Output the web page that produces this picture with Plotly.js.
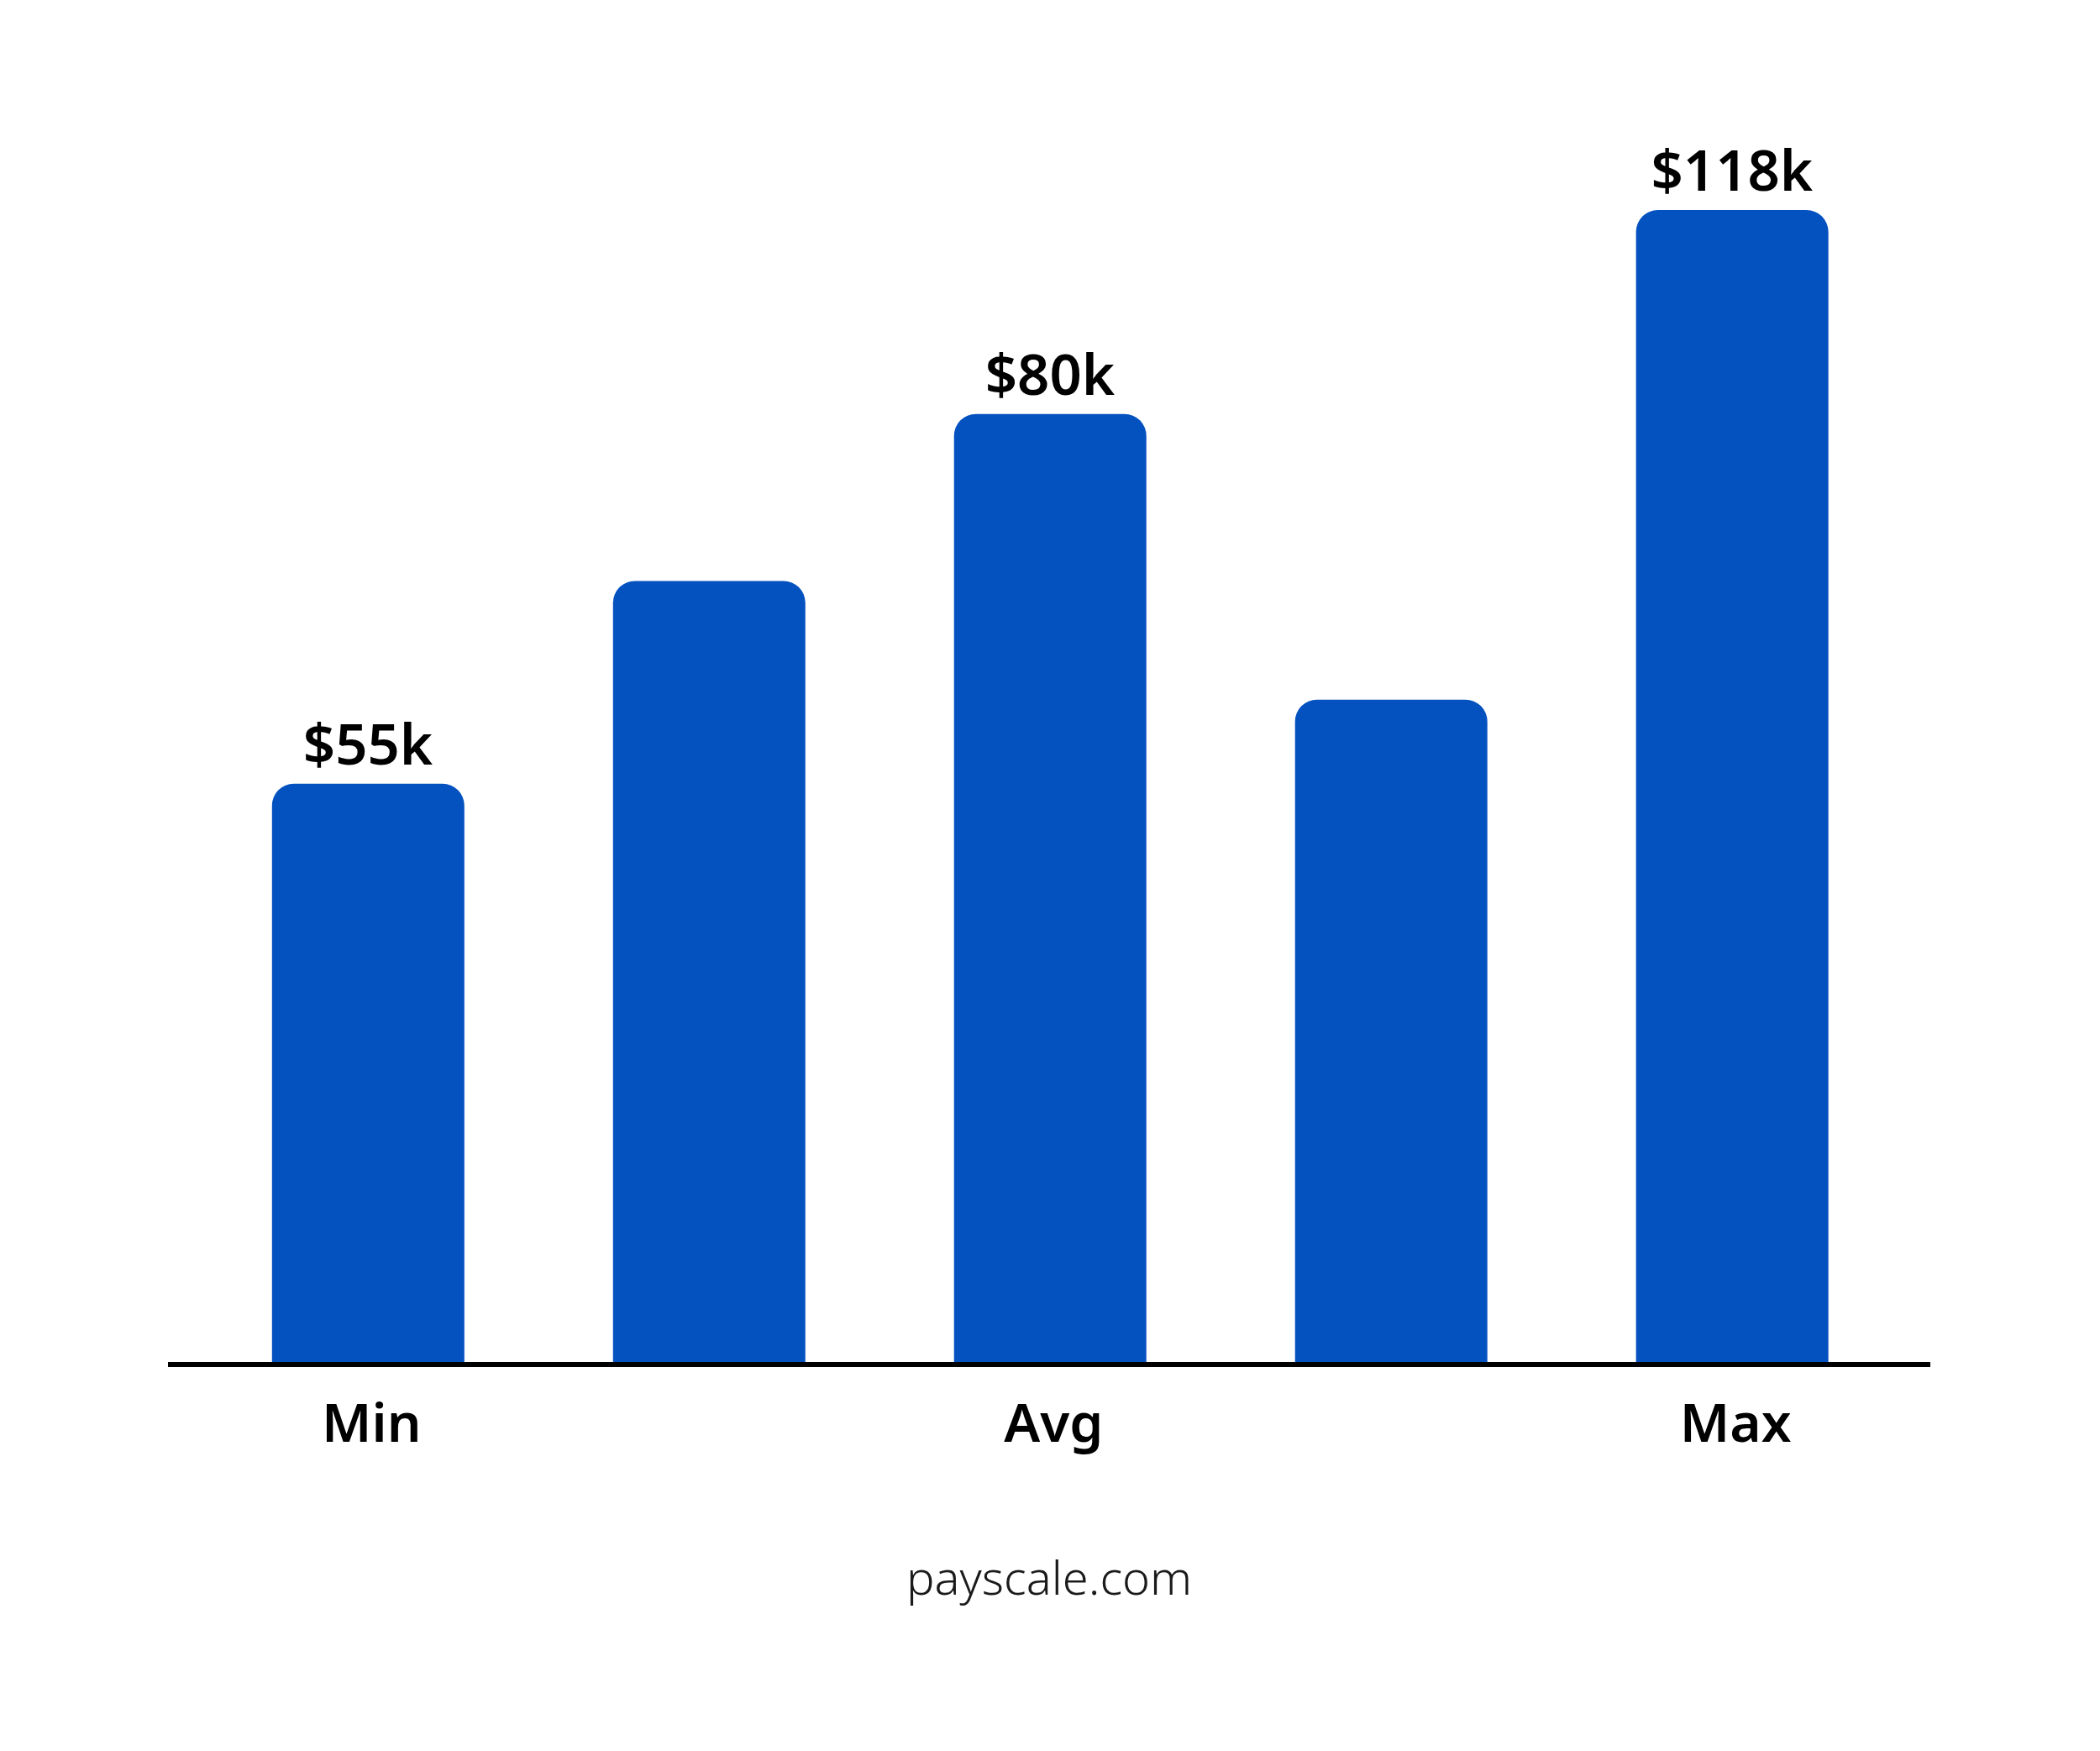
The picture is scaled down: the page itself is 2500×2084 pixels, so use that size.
<!DOCTYPE html>
<html>
<head>
<meta charset="utf-8">
<script src="https://cdn.plot.ly/plotly-3.0.1.min.js"></script>
<style>
  html, body { margin: 0; padding: 0; background: #ffffff; }
  #chart { width: 2500px; height: 2084px; }
</style>
</head>
<body>
<div id="chart"></div>
<script>
// Bars as drawn (illustration, not to a linear $ scale): level relative to the Max bar = 100
const categories = ['Min', 'Low', 'Avg', 'High', 'Max'];
const barLevels = [50.2, 67.8, 82.3, 57.5, 100];
const valueLabels = ['$55k', '', '$80k', '', '$118k'];
const tickLabels = ['Min', '', 'Avg', '', 'Max'];
const footer = 'payscale.com';

const barColor = '#0452c0';
const labelFont = '"Noto Sans", "Open Sans", sans-serif';

const data = [{
    type: 'bar',
    x: categories,
    y: barLevels,
    text: valueLabels,
    textposition: 'outside',
    constraintext: 'none',
    cliponaxis: false,
    textfont: { family: labelFont, size: 67, color: '#000000', weight: 600 },
    marker: { color: barColor, cornerradius: 26, line: { width: 0 } },
    hoverinfo: 'none'
}];

const layout = {
    width: 2500,
    height: 2084,
    margin: { l: 200, r: 202, t: 100, b: 463 },
    paper_bgcolor: '#ffffff',
    plot_bgcolor: '#ffffff',
    showlegend: false,
    bargap: 0.436,
    xaxis: {
        type: 'category',
        range: [-0.587, 4.581],
        tickvals: categories,
        ticktext: tickLabels,
        showline: true,
        linecolor: '#000000',
        linewidth: 6,
        showgrid: false,
        zeroline: false,
        ticks: '',
        ticklabelstandoff: 12,
        ticklabelshift: 4,
        tickfont: { family: labelFont, size: 64, color: '#000000', weight: 600 }
    },
    yaxis: {
        range: [0, 110.94],
        visible: false,
        showgrid: false,
        zeroline: false
    },
    annotations: [{
        text: footer,
        xref: 'paper', yref: 'paper',
        x: 0.5, y: -0.1675,
        xanchor: 'center', yanchor: 'middle',
        showarrow: false,
        font: { family: labelFont, size: 56, color: '#1a1a1a', weight: 300 }
    }]
};

Plotly.newPlot('chart', data, layout, { staticPlot: true, displayModeBar: false });
</script>
</body>
</html>
